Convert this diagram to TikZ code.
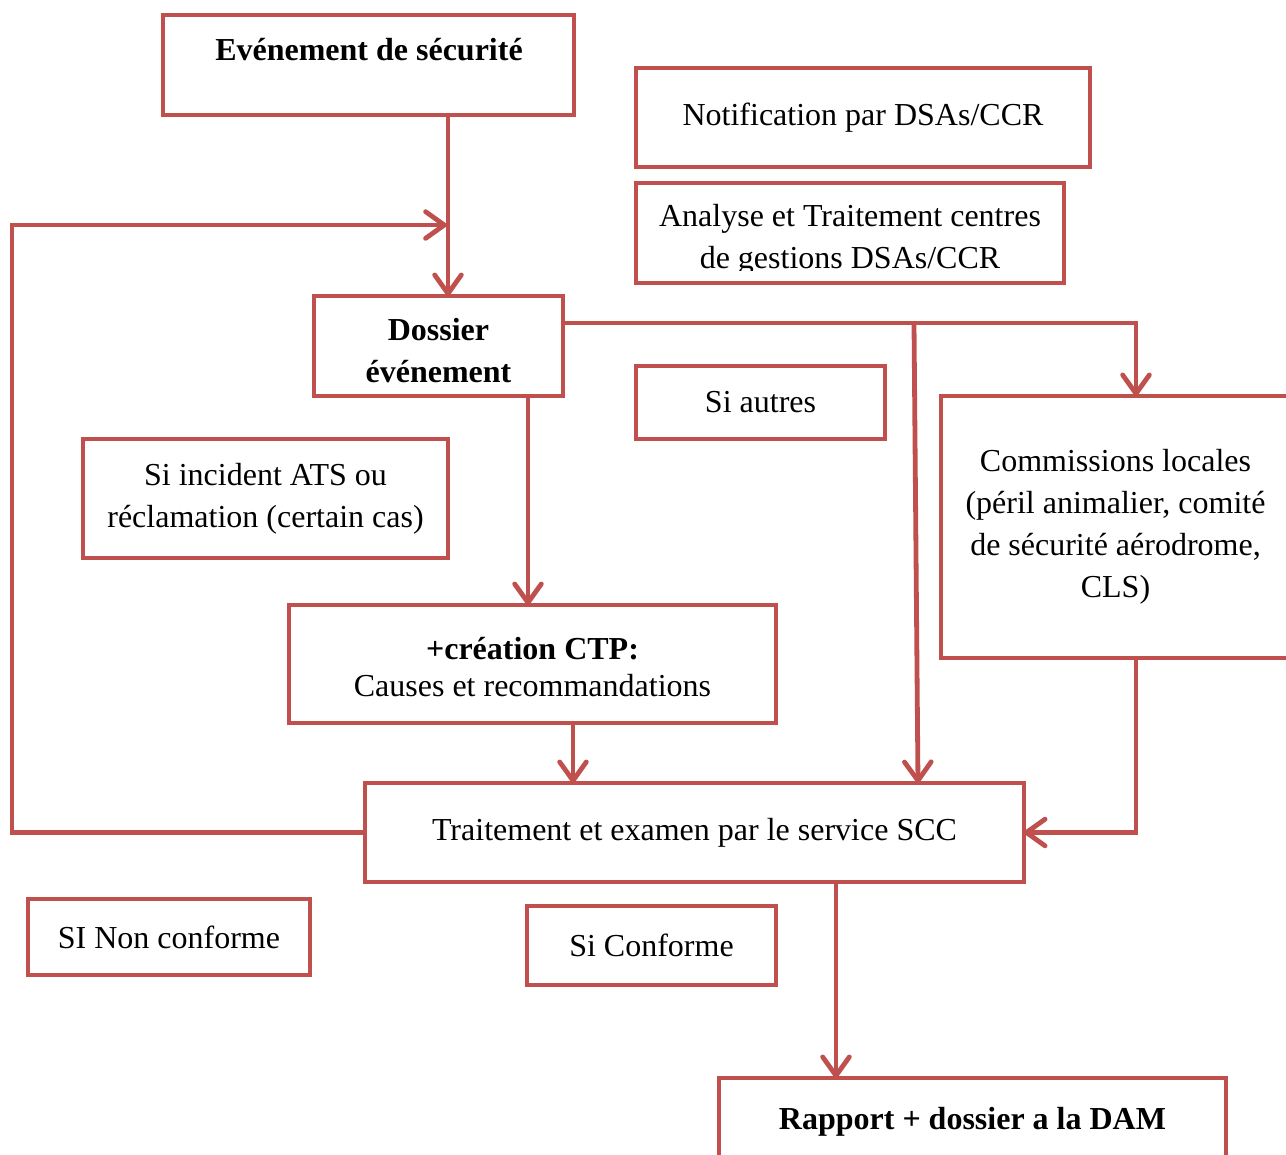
\documentclass[tikz,border=0pt]{standalone}
\usepackage{fontspec}
\setmainfont{Liberation Serif}
\usetikzlibrary{arrows.meta}
\definecolor{accentred}{HTML}{C0504D}
\begin{document}
\begin{tikzpicture}[x=0.75pt,y=-0.75pt,
  box/.style={draw=accentred, line width=3.6pt, inner sep=0pt, outer sep=0pt,
    align=center, font=\fontsize{24}{31.5}\selectfont},
  txt/.style={inner sep=0pt, align=center, font=\fontsize{24}{31.5}\selectfont},
  arr/.style={draw=accentred, line width=3.6pt,
    -{Straight Barb[length=14pt,width=20pt,line cap=round,line join=round]}}]
\useasboundingbox (0,0) rectangle (1286,1154);
\clip (0,0) rectangle (1286,1154);

% boxes (sizes given in pixel units of 0.75pt)
\node[box, minimum width=411*0.75pt, minimum height=100*0.75pt] (evt) at (368.5,65) {};
\node[txt, font=\fontsize{24}{31.5}\selectfont\bfseries] (evttext) at (369,50) {Evénement de sécurité};
\node[box, minimum width=454*0.75pt, minimum height=99*0.75pt] (notif) at (863,117.5) {Notification par DSAs/CCR};
\node[box, minimum width=428*0.75pt, minimum height=100*0.75pt] (ana) at (850,233) {};
\begin{scope}
  \clip (636,183) rectangle (1064,270);
  \node[txt] (anatext) at (850,239.5) {Analyse et Traitement centres\\de gestions DSAs/CCR};
\end{scope}
\node[box, minimum width=249*0.75pt, minimum height=100*0.75pt] (dos) at (438.5,346) {};
\node[txt, font=\fontsize{24}{31.5}\selectfont\bfseries] (dostext) at (438.5,350.5) {Dossier\\événement};
\node[box, minimum width=249*0.75pt, minimum height=73*0.75pt] (autres) at (760.5,402.5) {Si autres};
\node[box, minimum width=349*0.75pt, minimum height=262*0.75pt] (com) at (1115.5,527) {Commissions locales\\(péril animalier, comité\\de sécurité aérodrome,\\CLS)};
\node[box, minimum width=365*0.75pt, minimum height=119*0.75pt] (ats) at (265.5,498.5) {Si incident ATS ou\\réclamation (certain cas)};
\node[box, minimum width=487*0.75pt, minimum height=118*0.75pt] (ctp) at (532.5,664) {};
\node[txt] (ctptext) at (532.5,667) {\textbf{+création CTP:}\\[-3.75pt]Causes et recommandations};
\node[box, minimum width=659*0.75pt, minimum height=99*0.75pt] (trt) at (694.5,832.5) {Traitement et examen par le service SCC};
\node[box, minimum width=282*0.75pt, minimum height=76*0.75pt] (nonconf) at (169,937) {SI Non conforme};
\node[box, minimum width=249*0.75pt, minimum height=79*0.75pt] (conf) at (651.5,945.5) {Si Conforme};
\node[box, minimum width=507*0.75pt, minimum height=88*0.75pt, font=\fontsize{24}{31.5}\selectfont\bfseries] (rap) at (972.5,1122) {Rapport + dossier a la DAM};

% junctions
\coordinate (merge) at (448,225);
\coordinate (split) at (914,323);

% connectors
\draw[arr] (448,0 |- evt.south) -- (448,0 |- dos.north);
\draw[arr] (trt.west) -- (12,0 |- trt.west) -- (12,225) -- ([xshift=-1pt]merge);
\draw[arr] (528,0 |- dos.south) -- (528,0 |- ctp.north);
\draw[arr] (dos.east |- split) -- (1136,0 |- split) -- (1136,0 |- com.north);
\draw[arr] (split) -- (918,0 |- trt.north);
\draw[arr] (573,0 |- ctp.south) -- (573,0 |- trt.north);
\draw[arr] (1136,0 |- com.south) -- (1136,0 |- trt.east) -- (trt.east);
\draw[arr] (836,0 |- trt.south) -- (836,0 |- rap.north);
\end{tikzpicture}
\end{document}
